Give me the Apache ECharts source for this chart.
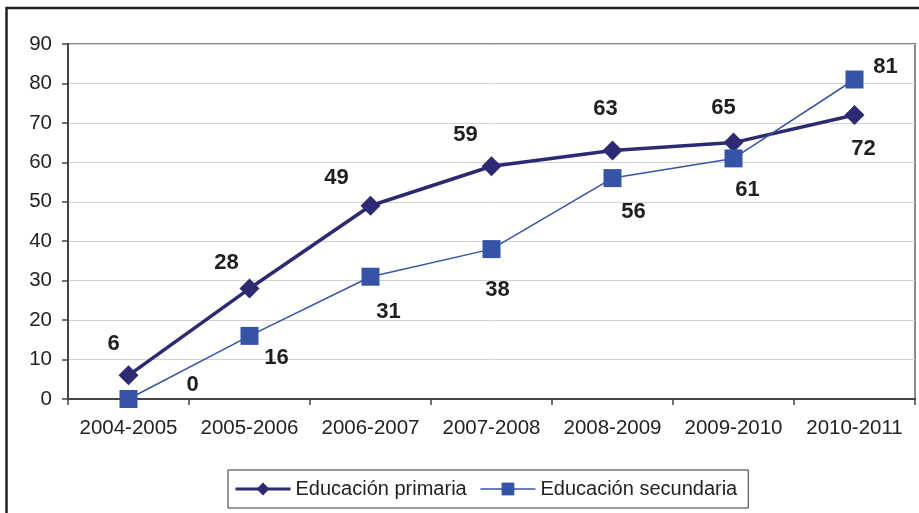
<!DOCTYPE html>
<html>
<head>
<meta charset="utf-8">
<title>Educación primaria y secundaria</title>
<script src="https://cdn.jsdelivr.net/npm/echarts@6/dist/echarts.min.js"></script>
<style>
  html, body { margin: 0; padding: 0; background: #ffffff; }
  #chart { width: 919px; height: 513px; }
</style>
</head>
<body>
<div id="chart"></div>
<script>
// School years on the x axis
const years = ['2004-2005', '2005-2006', '2006-2007', '2007-2008', '2008-2009', '2009-2010', '2010-2011'];

// Series values
const primaria = [6, 28, 49, 59, 63, 65, 72];
const secundaria = [0, 16, 31, 38, 56, 61, 81];

// Series names
const namePrimaria = 'Educación primaria';
const nameSecundaria = 'Educación secundaria';

// Value label placement relative to each marker (px)
const offsetsPrimaria = [[-15, -31], [-23, -26], [-34, -28], [-26, -31], [-7, -42], [-10, -35], [9, 34]];
const offsetsSecundaria = [[64, -14], [27, 22], [18, 35], [6, 41], [21, 34], [14, 32], [31, -13]];

const FONT = "'Liberation Sans', Arial, sans-serif";
const C_PRIM = '#2c2a72';
const C_SEC = '#3654a6';

function withLabels(values, offsets) {
  return values.map((v, i) => ({
    value: v,
    label: { offset: offsets[i] }
  }));
}

const labelStyle = {
  show: true,
  position: 'inside',
  fontFamily: FONT,
  fontSize: 22,
  fontWeight: 'bold',
  color: '#1f1f1f'
};

const chart = echarts.init(document.getElementById('chart'), null, { renderer: 'canvas' });

chart.setOption({
  backgroundColor: '#ffffff',
  animation: false,
  graphic: [{
    type: 'polyline',
    z: 100,
    shape: { points: [[6.5, 530], [6.5, 8], [930, 8]] },
    style: { stroke: '#222222', lineWidth: 2.5, fill: null }
  }],
  grid: {
    left: 68,
    right: 4,
    top: 44,
    bottom: 114,
    show: true,
    borderColor: '#8a8a8a',
    borderWidth: 2,
    backgroundColor: 'transparent'
  },
  legend: {
    left: 228,
    top: 470,
    orient: 'horizontal',
    itemWidth: 55,
    itemHeight: 16,
    itemGap: 13,
    padding: [9, 11, 9, 6],
    borderColor: '#333333',
    borderWidth: 1,
    textStyle: { fontFamily: FONT, fontSize: 20, color: '#222222' },
    data: [
      { name: namePrimaria, lineStyle: { width: 3 } },
      { name: nameSecundaria, lineStyle: { width: 1.5 } }
    ]
  },
  xAxis: {
    type: 'category',
    data: years,
    boundaryGap: true,
    axisLine: { show: true, lineStyle: { color: '#444444', width: 2 } },
    axisTick: { show: true, length: 6, interval: 0, lineStyle: { color: '#444444', width: 1.5 } },
    axisLabel: { interval: 0, fontFamily: FONT, fontSize: 20.5, color: '#222222', margin: 19 },
    splitLine: { show: false }
  },
  yAxis: {
    type: 'value',
    min: 0,
    max: 90,
    interval: 10,
    axisLine: { show: true, lineStyle: { color: '#444444', width: 2 } },
    axisTick: { show: true, length: 6, lineStyle: { color: '#444444', width: 1.5 } },
    axisLabel: { fontFamily: FONT, fontSize: 20.5, color: '#222222', margin: 16 },
    splitLine: { show: true, lineStyle: { color: '#d2d2d2', width: 1 } }
  },
  series: [
    {
      name: namePrimaria,
      type: 'line',
      data: withLabels(primaria, offsetsPrimaria),
      symbol: 'diamond',
      symbolSize: 20,
      lineStyle: { color: C_PRIM, width: 3.5 },
      itemStyle: { color: C_PRIM },
      label: labelStyle,
      z: 3
    },
    {
      name: nameSecundaria,
      type: 'line',
      data: withLabels(secundaria, offsetsSecundaria),
      symbol: 'rect',
      symbolSize: 18,
      lineStyle: { color: C_SEC, width: 1.5 },
      itemStyle: { color: C_SEC },
      label: labelStyle,
      z: 4
    }
  ]
});
</script>
</body>
</html>
